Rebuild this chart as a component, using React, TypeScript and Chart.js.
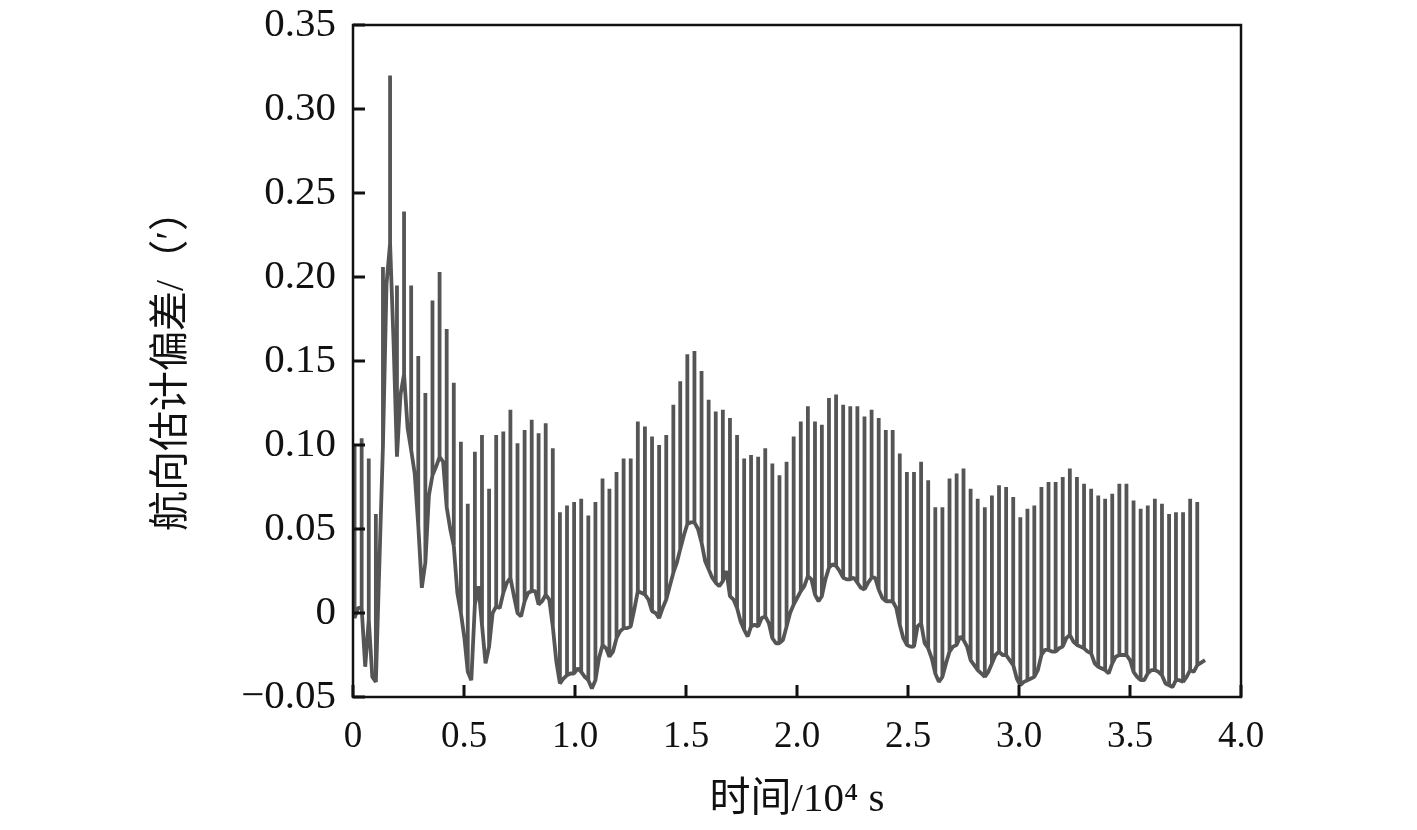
import React, { useEffect, useRef } from "react";
import { Chart, registerables } from "chart.js";

Chart.register(...registerables);

// Spike instants (10^4 s)
const spikeTimes = [
  0.007, 0.039, 0.071, 0.103, 0.135, 0.167, 0.198, 0.230, 0.262, 0.294,
  0.326, 0.358, 0.390, 0.422, 0.454, 0.486, 0.517, 0.549, 0.581, 0.613,
  0.645, 0.677, 0.709, 0.741, 0.773, 0.805, 0.836, 0.868, 0.900, 0.932,
  0.964, 0.996, 1.028, 1.060, 1.092, 1.124, 1.155, 1.187, 1.219, 1.251,
  1.283, 1.315, 1.347, 1.379, 1.411, 1.443, 1.474, 1.506, 1.538, 1.570,
  1.602, 1.634, 1.666, 1.698, 1.730, 1.762, 1.793, 1.825, 1.857, 1.889,
  1.921, 1.953, 1.985, 2.017, 2.049, 2.081, 2.112, 2.144, 2.176, 2.208,
  2.240, 2.272, 2.304, 2.336, 2.368, 2.400, 2.431, 2.463, 2.495, 2.527,
  2.559, 2.591, 2.623, 2.655, 2.687, 2.719, 2.750, 2.782, 2.814, 2.846,
  2.878, 2.910, 2.942, 2.974, 3.006, 3.038, 3.069, 3.101, 3.133, 3.165,
  3.197, 3.229, 3.261, 3.293, 3.325, 3.357, 3.388, 3.420, 3.452, 3.484,
  3.516, 3.548, 3.580, 3.612, 3.644, 3.676, 3.707, 3.739, 3.771, 3.803,
];

// Peak value of each spike
const spikePeaks = [
  0.100, 0.104, 0.092, 0.059, 0.206, 0.320, 0.195, 0.239, 0.195, 0.153,
  0.131, 0.186, 0.203, 0.169, 0.137, 0.102, 0.065, 0.096, 0.106, 0.074,
  0.106, 0.108, 0.121, 0.101, 0.109, 0.115, 0.107, 0.113, 0.098, 0.060,
  0.064, 0.066, 0.068, 0.058, 0.066, 0.080, 0.074, 0.084, 0.092, 0.092,
  0.114, 0.111, 0.105, 0.100, 0.106, 0.124, 0.138, 0.154, 0.156, 0.144,
  0.127, 0.120, 0.121, 0.116, 0.106, 0.092, 0.094, 0.093, 0.098, 0.089,
  0.082, 0.090, 0.105, 0.114, 0.123, 0.114, 0.112, 0.128, 0.130, 0.124,
  0.123, 0.123, 0.117, 0.121, 0.116, 0.109, 0.109, 0.095, 0.084, 0.084,
  0.090, 0.079, 0.063, 0.063, 0.080, 0.083, 0.086, 0.074, 0.068, 0.063,
  0.070, 0.076, 0.075, 0.069, 0.057, 0.062, 0.064, 0.075, 0.078, 0.078,
  0.081, 0.086, 0.081, 0.077, 0.074, 0.070, 0.068, 0.071, 0.077, 0.077,
  0.067, 0.062, 0.064, 0.068, 0.065, 0.059, 0.060, 0.060, 0.068, 0.066,
];

// Baseline value at each spike instant
const spikeBase = [
  -0.003, 0.003, -0.004, -0.041, 0.100, 0.220, 0.093, 0.142, 0.097, 0.052,
  0.030, 0.082, 0.093, 0.063, 0.040, 0.000, -0.035, 0.005, -0.007, -0.020,
  0.004, 0.012, 0.021, 0.000, 0.007, 0.013, 0.005, 0.011, -0.008, -0.042,
  -0.037, -0.036, -0.035, -0.040, -0.040, -0.019, -0.026, -0.015, -0.009, -0.008,
  0.013, 0.011, 0.001, -0.003, 0.008, 0.024, 0.038, 0.053, 0.054, 0.042,
  0.026, 0.018, 0.019, 0.010, 0.003, -0.010, -0.008, -0.008, -0.002, -0.015,
  -0.018, -0.008, 0.005, 0.013, 0.022, 0.011, 0.010, 0.027, 0.028, 0.021,
  0.020, 0.018, 0.014, 0.021, 0.014, 0.007, 0.007, -0.007, -0.019, -0.020,
  -0.006, -0.021, -0.036, -0.038, -0.023, -0.019, -0.016, -0.028, -0.034, -0.038,
  -0.030, -0.023, -0.025, -0.031, -0.043, -0.040, -0.038, -0.025, -0.022, -0.023,
  -0.020, -0.013, -0.019, -0.021, -0.024, -0.032, -0.034, -0.030, -0.025, -0.025,
  -0.035, -0.040, -0.036, -0.034, -0.037, -0.043, -0.040, -0.041, -0.034, -0.031,
];

// Baseline samples between spikes (last one is the end of the record)
const midTimes = [
  0.023, 0.055, 0.087, 0.119, 0.151, 0.183, 0.214, 0.246, 0.278, 0.310,
  0.342, 0.374, 0.406, 0.438, 0.470, 0.502, 0.533, 0.565, 0.597, 0.629,
  0.661, 0.693, 0.725, 0.757, 0.789, 0.821, 0.852, 0.884, 0.916, 0.948,
  0.980, 1.012, 1.044, 1.076, 1.108, 1.140, 1.171, 1.203, 1.235, 1.267,
  1.299, 1.331, 1.363, 1.395, 1.427, 1.459, 1.490, 1.522, 1.554, 1.586,
  1.618, 1.650, 1.682, 1.714, 1.746, 1.778, 1.809, 1.841, 1.873, 1.905,
  1.937, 1.969, 2.001, 2.033, 2.065, 2.097, 2.128, 2.160, 2.192, 2.224,
  2.256, 2.288, 2.320, 2.352, 2.384, 2.416, 2.447, 2.479, 2.511, 2.543,
  2.575, 2.607, 2.639, 2.671, 2.703, 2.735, 2.766, 2.798, 2.830, 2.862,
  2.894, 2.926, 2.958, 2.990, 3.022, 3.054, 3.085, 3.117, 3.149, 3.181,
  3.213, 3.245, 3.277, 3.309, 3.341, 3.373, 3.404, 3.436, 3.468, 3.500,
  3.532, 3.564, 3.596, 3.628, 3.660, 3.692, 3.723, 3.755, 3.787, 3.838,
];

const midBase = [
  0.003, -0.032, -0.038, 0.030, 0.196, 0.160, 0.130, 0.110, 0.083, 0.015,
  0.070, 0.087, 0.090, 0.050, 0.012, -0.015, -0.040, 0.016, -0.030, 0.000,
  0.003, 0.018, 0.010, -0.002, 0.012, 0.013, 0.007, 0.008, -0.029, -0.039,
  -0.036, -0.033, -0.038, -0.045, -0.027, -0.021, -0.023, -0.011, -0.009, 0.002,
  0.012, 0.008, 0.000, 0.003, 0.016, 0.030, 0.046, 0.054, 0.050, 0.031,
  0.021, 0.016, 0.025, 0.008, -0.005, -0.014, -0.007, -0.003, -0.006, -0.018,
  -0.016, 0.000, 0.009, 0.016, 0.020, 0.007, 0.020, 0.029, 0.025, 0.020,
  0.021, 0.015, 0.018, 0.021, 0.009, 0.007, 0.003, -0.015, -0.020, -0.008,
  -0.018, -0.027, -0.041, -0.030, -0.020, -0.014, -0.020, -0.031, -0.036, -0.035,
  -0.025, -0.025, -0.028, -0.039, -0.041, -0.039, -0.034, -0.022, -0.023, -0.021,
  -0.015, -0.017, -0.020, -0.023, -0.030, -0.033, -0.036, -0.026, -0.025, -0.028,
  -0.038, -0.040, -0.034, -0.035, -0.042, -0.044, -0.040, -0.038, -0.035, -0.028,
];

const xTicks = [0, 0.5, 1.0, 1.5, 2.0, 2.5, 3.0, 3.5, 4.0];
const yTicks = [-0.05, 0, 0.05, 0.1, 0.15, 0.2, 0.25, 0.3, 0.35];

const xTitle = "时间/10⁴ s";
const yTitle = "航向估计偏差/（′）";

const SERIF = "'Liberation Serif', 'Times New Roman', 'Noto Sans CJK SC', serif";

function buildPoints() {
  const pts: { x: number; y: number }[] = [];
  for (let k = 0; k < spikeTimes.length; k++) {
    pts.push({ x: spikeTimes[k], y: spikeBase[k] });
    pts.push({ x: spikeTimes[k], y: spikePeaks[k] });
    pts.push({ x: spikeTimes[k], y: spikeBase[k] });
    pts.push({ x: midTimes[k], y: midBase[k] });
  }
  return pts;
}

const framePlugin = {
  id: "frameTicks",
  afterDatasetsDraw(chart: any) {
    const { ctx, chartArea, scales } = chart;
    const { left, right, top, bottom } = chartArea;
    ctx.save();
    ctx.strokeStyle = "#111";
    ctx.lineWidth = 3;
    ctx.lineCap = "butt";
    ctx.beginPath();
    for (const v of yTicks) {
      const y = scales.y.getPixelForValue(v);
      ctx.moveTo(left, y);
      ctx.lineTo(left + 12, y);
    }
    for (const v of xTicks) {
      const x = scales.x.getPixelForValue(v);
      ctx.moveTo(x, bottom);
      ctx.lineTo(x, bottom - 12);
    }
    ctx.stroke();
    ctx.lineWidth = 2.5;
    ctx.strokeRect(left, top, right - left, bottom - top);
    ctx.restore();
  },
};

export default function App() {
  const ref = useRef<HTMLCanvasElement | null>(null);
  useEffect(() => {
    if (!ref.current) return;
    const chart = new Chart(ref.current, {
      type: "line",
      data: {
        datasets: [
          {
            data: buildPoints(),
            borderColor: "#555555",
            borderWidth: 3.8,
            pointRadius: 0,
            tension: 0,
            fill: false,
            borderJoinStyle: "bevel",
          },
        ],
      },
      options: {
        animation: false,
        responsive: true,
        maintainAspectRatio: false,
        layout: { padding: { left: 0, top: 25, right: 176, bottom: 0 } },
        plugins: { legend: { display: false }, tooltip: { enabled: false } },
        scales: {
          x: {
            type: "linear",
            min: 0,
            max: 4,
            grid: { display: false },
            border: { display: false },
            afterBuildTicks: (s: any) => {
              s.ticks = xTicks.map((v) => ({ value: v }));
            },
            afterFit: (s: any) => {
              s.height = 133;
              s.paddingLeft = 0;
              s.paddingRight = 0;
            },
            ticks: {
              padding: 10,
              color: "#111",
              font: { family: SERIF, size: 37 },
              maxRotation: 0,
              autoSkip: false,
              callback: (v: any) => (Number(v) === 0 ? "0" : Number(v).toFixed(1)),
            },
            title: {
              display: true,
              text: xTitle,
              color: "#111",
              font: { family: SERIF, size: 41 },
              padding: { top: 0, bottom: 5 },
            },
          },
          y: {
            type: "linear",
            min: -0.05,
            max: 0.35,
            grid: { display: false },
            border: { display: false },
            afterBuildTicks: (s: any) => {
              s.ticks = yTicks.map((v) => ({ value: v }));
            },
            afterFit: (s: any) => {
              s.width = 353;
              s.paddingTop = 0;
              s.paddingBottom = 0;
            },
            ticks: {
              padding: 9,
              color: "#111",
              font: { family: SERIF, size: 41 },
              autoSkip: false,
              callback: (v: any) => {
                const n = Number(v);
                if (Math.abs(n) < 1e-9) return "0";
                const s = Math.abs(n).toFixed(2);
                return n < 0 ? "\u2212" + s : s;
              },
            },
            title: {
              display: true,
              text: yTitle,
              color: "#111",
              font: { family: SERIF, size: 40 },
              padding: { top: 148, bottom: 0 },
            },
          },
        },
      },
      plugins: [framePlugin],
    });
    return () => chart.destroy();
  }, []);
  return (
    <div style={{ position: "absolute", left: 0, top: 0, width: 1417, height: 830, background: "#fff" }}>
      <canvas ref={ref} />
    </div>
  );
}
